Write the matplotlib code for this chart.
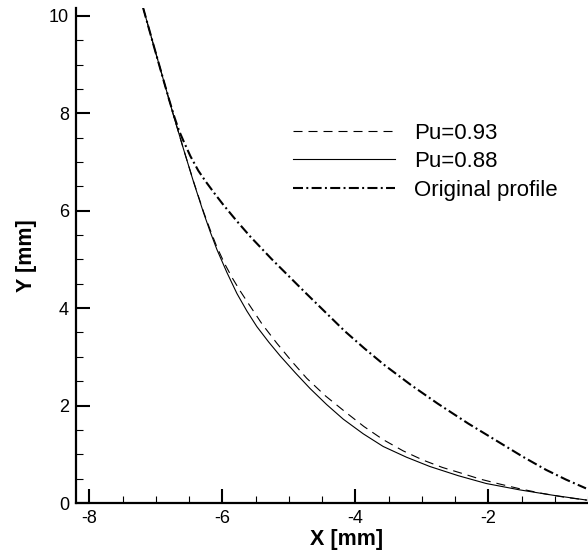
import matplotlib
matplotlib.use('agg')
from matplotlib import pyplot as plt
from matplotlib.ticker import MultipleLocator, AutoMinorLocator

# Pu=0.88 (solid)
x_pu088 = [-7.19, -7.03, -6.88, -6.73, -6.58, -6.43, -6.28, -6.18, -6.08, -5.93,
           -5.78, -5.63, -5.48, -5.30, -5.13, -4.90, -4.68, -4.43, -4.18, -3.88,
           -3.58, -3.23, -2.88, -2.45, -2.03, -1.53, -1.03, -0.52]
y_pu088 = [10.16, 9.38, 8.66, 7.94, 7.25, 6.58, 5.95, 5.56, 5.20, 4.73,
           4.30, 3.94, 3.62, 3.30, 3.02, 2.67, 2.35, 2.02, 1.72, 1.42,
           1.16, 0.94, 0.75, 0.56, 0.40, 0.27, 0.16, 0.06]

# Pu=0.93 (dashed)
x_pu093 = [-7.19, -7.03, -6.88, -6.73, -6.58, -6.43, -6.28, -6.18, -6.08, -5.96,
           -5.85, -5.73, -5.61, -5.40, -5.18, -4.95, -4.73, -4.45, -4.16, -3.87,
           -3.58, -3.28, -2.98, -2.69, -2.40, -2.12, -1.83, -1.52, -1.20, -0.86, -0.52]
y_pu093 = [10.16, 9.38, 8.66, 7.94, 7.25, 6.59, 5.97, 5.60, 5.25, 4.90,
           4.62, 4.35, 4.10, 3.67, 3.28, 2.90, 2.56, 2.20, 1.88, 1.57,
           1.30, 1.07, 0.88, 0.73, 0.61, 0.49, 0.39, 0.29, 0.20, 0.12, 0.06]

# Original profile (dash-dot)
x_orig = [-7.19, -7.03, -6.88, -6.80, -6.72, -6.65, -6.59, -6.48, -6.36, -6.25,
          -6.12, -5.99, -5.79, -5.58, -5.26, -5.01, -4.76, -4.46, -4.16, -3.86,
          -3.56, -3.16, -2.76, -2.30, -1.83, -1.48, -1.13, -0.83, -0.53]
y_orig = [10.16, 9.38, 8.66, 8.28, 7.92, 7.64, 7.45, 7.12, 6.82, 6.60,
          6.36, 6.13, 5.80, 5.47, 5.01, 4.67, 4.33, 3.93, 3.53, 3.17,
          2.83, 2.42, 2.04, 1.63, 1.24, 0.95, 0.68, 0.48, 0.30]

labels = ['Pu=0.93', 'Pu=0.88', 'Original profile']

plt.rcParams['font.family'] = ['Liberation Sans', 'DejaVu Sans']
plt.rcParams['lines.scale_dashes'] = False
plt.rcParams['axes.unicode_minus'] = False

fig = plt.figure(figsize=(5.88, 5.52), dpi=100)
ax = fig.add_axes([76 / 588, 49 / 552, 512 / 588, 495 / 552])

ax.plot(x_pu093, y_pu093, color='black', linewidth=0.8, dashes=(6.5, 4.3), label=labels[0])
ax.plot(x_pu088, y_pu088, color='black', linewidth=0.8, label=labels[1])
ax.plot(x_orig, y_orig, color='black', linewidth=1.5, dashes=(7.2, 2.4, 1.4, 2.4), label=labels[2])

ax.set_xlim(-8.2, -0.5)
ax.set_ylim(0, 10.16)

ax.xaxis.set_major_locator(MultipleLocator(2))
ax.yaxis.set_major_locator(MultipleLocator(2))
ax.xaxis.set_minor_locator(AutoMinorLocator(4))
ax.yaxis.set_minor_locator(AutoMinorLocator(4))

for side in ['top', 'right']:
    ax.spines[side].set_visible(False)
for side in ['left', 'bottom']:
    ax.spines[side].set_linewidth(1.6)

ax.tick_params(which='major', direction='in', length=10, width=1.5, labelsize=13, pad=5)
ax.tick_params(which='minor', direction='in', length=5, width=0.8)

ax.set_xlabel('X [mm]', fontsize=15.5, fontweight='bold')
ax.set_ylabel('Y [mm]', fontsize=15.5, fontweight='bold')
ax.xaxis.set_label_coords(0.529, -0.052)
ax.yaxis.set_label_coords(-0.076, 0.5)

ax.legend(loc='upper left', bbox_to_anchor=(0.424, 0.768), frameon=False, fontsize=16,
          handlelength=4.59, handletextpad=0.84, labelspacing=0.33,
          borderpad=0, borderaxespad=0)

plt.savefig('out.png', dpi=100)
